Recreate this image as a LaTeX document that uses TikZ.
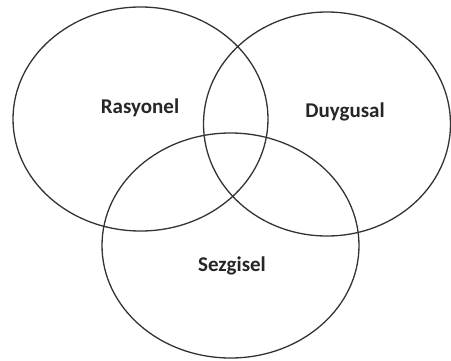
\documentclass[tikz,border=0pt]{standalone}
\usepackage{fontspec}
\setmainfont{Carlito}
\begin{document}
\begin{tikzpicture}[x=1pt,y=-1pt,
  ring/.style={draw=black!80,line width=1.3pt},
  lbl/.style={font=\bfseries\fontsize{21}{24}\selectfont,text=black!85}]
\useasboundingbox (0,0) rectangle (451,360);
\draw[ring] (140.5,119) ellipse [x radius=127.5, y radius=112];
\draw[ring] (327,124) ellipse [x radius=123.5, y radius=112];
\draw[ring] (230.5,245.5) ellipse [x radius=128.5, y radius=112.5];
\node[lbl] (r) at (140,108) {Rasyonel};
\node[lbl] (d) at (345,112) {Duygusal};
\node[lbl] (s) at (232,266) {Sezgisel};
\end{tikzpicture}
\end{document}
